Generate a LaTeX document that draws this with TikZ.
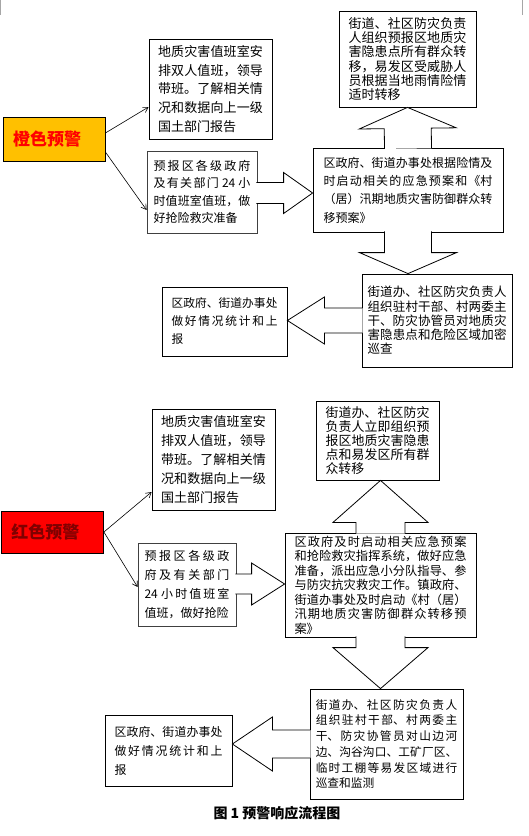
\documentclass[tikz,border=0pt]{standalone}
\usepackage{fontspec}
\setmainfont{Noto Sans CJK SC}
\XeTeXlinebreaklocale "zh"
\XeTeXlinebreakskip=0pt plus 4pt minus 0.3pt
\usetikzlibrary{arrows.meta, calc}
\definecolor{warnorange}{RGB}{255,192,0}
\definecolor{warnred}{RGB}{255,0,0}
\definecolor{darkred}{RGB}{128,0,0}
\tikzset{
  box/.style={rectangle,draw,line width=0.8pt,inner sep=0pt,align=justify},
  txt/.style 2 args={font=\fontsize{#1}{#2}\selectfont},
  alert/.style={rectangle,draw,line width=0.8pt,inner xsep=10pt,text width=82pt,align=left,
    font=\bfseries\fontsize{17}{20}\selectfont},
  line/.style={-{Straight Barb[length=5pt,width=6pt]},line width=0.6pt},
  fatarr/.style={draw,fill=white,line width=0.8pt,line join=miter}
}
% block arrow: base, tip, shaft half width, head half width, head length
\newcommand{\fatarrow}[5]{%
  \coordinate (fa-h) at ($(#2)!#5!(#1)$);
  \filldraw[fatarr] ($(#1)!#3!90:(#2)$) -- ($(fa-h)!#3!90:(#2)$) -- ($(fa-h)!#4!90:(#2)$)
    -- (#2) -- ($(fa-h)!#4!-90:(#2)$) -- ($(fa-h)!#3!-90:(#2)$) -- ($(#1)!#3!-90:(#2)$);
}

\begin{document}
\begin{tikzpicture}[x=1pt,y=-1pt]
\useasboundingbox[fill=white] (0,0) rectangle (529,836);
\draw[gray!70,line width=0.6pt] (0.5,0) -- (0.5,15);
\draw[gray!70,line width=0.6pt] (522,0) -- (522,15);

% orange warning
\node[alert, fill=warnorange, text=red, minimum height=44pt] (orange) at (54,139) {橙色预警};
\node[box, text width=105pt, minimum width=123pt, minimum height=100pt, txt={13}{18.8}] (a1) at (210.5,89)
  {地质灾害值班室安\linebreak 排双人值班，领导\linebreak 带班。了解相关情\linebreak 况和数据向上一级\linebreak 国土部门报告};
\node[box, draw=black!75, text width=97pt, minimum width=110pt, minimum height=82pt, txt={12}{17.5}] (b1) at (202,192)
  {预报区各级政府\linebreak 及有关部门 24 小\linebreak 时值班室值班，做\linebreak 好抢险救灾准备};
\node[box, text width=118pt, minimum width=137pt, minimum height=96pt, txt={13}{14.3}] (t1) at (407.5,59)
  {街道、社区防灾负责\linebreak 人组织预报区地质灾\linebreak 害隐患点所有群众转\linebreak 移，易发区受威胁人\linebreak 员根据当地雨情险情\linebreak 适时转移};
\node[box, text width=169pt, minimum width=190pt, minimum height=84pt, txt={12}{18.3}] (m1) at (408,190)
  {区政府、街道办事处根据险情及\linebreak 时启动相关的应急预案和《村\linebreak （居）汛期地质灾害防御群众转\linebreak 移预案》};
\node[box, text width=139pt, minimum width=150pt, minimum height=93pt, txt={12.5}{14.2}] (bot1r) at (437,320.5)
  {街道办、社区防灾负责人\linebreak 组织驻村干部、村两委主\linebreak 干、防灾协管员对地质灾\linebreak 害隐患点和危险区域加密\linebreak 巡查};
\node[box, text width=106pt, minimum width=125pt, minimum height=69pt, txt={11.7}{18}] (bot1l) at (224.5,321.5)
  {区政府、街道办事处\linebreak 做好情况统计和上\linebreak 报};

\draw[line] ($(orange.east)+(0,-6)$) -- ($(a1.west)+(0,18)$);
\draw[line] ($(orange.east)+(0,13)$) -- ($(b1.west)+(0,18)$);

\coordinate (u1b) at ($(m1.north)+(0,1)$);
\fatarrow{u1b}{t1.south}{23.5pt}{48.5pt}{21pt}
\coordinate (r1t) at ($(m1.west)+(0,3)$);
\coordinate (r1b) at ($(b1.east |- r1t)+(-1,0)$);
\fatarrow{r1b}{r1t}{10.5pt}{20.5pt}{29pt}
\coordinate (d1b) at ($(m1.south)+(0,-1)$);
\coordinate (d1t) at (m1.south |- bot1r.north);
\fatarrow{d1b}{d1t}{23.5pt}{48.5pt}{21pt}
\coordinate (l1b) at ($(bot1r.west)+(1,0)$);
\coordinate (l1t) at (bot1l.east |- bot1r.west);
\fatarrow{l1b}{l1t}{12.5pt}{23.5pt}{37pt}

% red warning
\node[alert, fill=warnred, text=darkred, minimum height=42pt] (red) at (52.5,532) {红色预警};
\node[box, text width=105pt, minimum width=123pt, minimum height=101pt, txt={13}{18.8}] (a2) at (213.5,459.5)
  {地质灾害值班室安\linebreak 排双人值班，领导\linebreak 带班。了解相关情\linebreak 况和数据向上一级\linebreak 国土部门报告};
\node[box, draw=black!75, text width=85pt, minimum width=98pt, minimum height=83pt, txt={12}{19}] (b2) at (187,584.5)
  {预报区各级政\linebreak 府及有关部门\linebreak 24 小时值班室\linebreak 值班，做好抢险};
\node[box, text width=104pt, minimum width=123pt, minimum height=79pt, txt={12.9}{14.2}] (t2) at (377.5,440.5)
  {街道办、社区防灾\linebreak 负责人立即组织预\linebreak 报区地质灾害隐患\linebreak 点和易发区所有群\linebreak 众转移};
\node[box, text width=172pt, minimum width=191pt, minimum height=104pt, txt={12.2}{14.5}] (m2) at (380.5,585)
  {区政府及时启动相关应急预案\linebreak 和抢险救灾指挥系统，做好应急\linebreak 准备，派出应急小分队指导、参\linebreak 与防灾抗灾救灾工作。镇政府、\linebreak 街道办事处及时启动《村（居）\linebreak 汛期地质灾害防御群众转移预\linebreak 案》};
\node[box, text width=141.5pt, minimum width=153pt, minimum height=110pt, txt={11.7}{15.7}] (bot2r) at (386.5,744)
  {街道办、社区防灾负责人\linebreak 组织驻村干部、村两委主\linebreak 干、防灾协管员对山边河\linebreak 边、沟谷沟口、工矿厂区、\linebreak 临时工棚等易发区域进行\linebreak 巡查和监测};
\node[box, text width=108pt, minimum width=127pt, minimum height=71pt, txt={11.9}{19}] (bot2l) at (168.5,750.5)
  {区政府、街道办事处\linebreak 做好情况统计和上\linebreak 报};

\draw[line] (red.east) -- ($(a2.west)+(0,32.5)$);
\draw[line] (red.east) -- ($(b2.west)+(0,2.5)$);

\coordinate (u2b) at ($(m2.north)+(0,1)$);
\coordinate (u2t) at (m2.north |- t2.south);
\fatarrow{u2b}{u2t}{24.5pt}{47.5pt}{42pt}
\coordinate (r2t) at ($(m2.west)+(0,-1)$);
\coordinate (r2b) at ($(b2.east |- r2t)+(-1,0)$);
\fatarrow{r2b}{r2t}{10pt}{21pt}{33pt}
\coordinate (d2b) at ($(m2.south)+(0,-1)$);
\coordinate (d2t) at (m2.south |- bot2r.north);
\fatarrow{d2b}{d2t}{24.5pt}{47.5pt}{41pt}
\coordinate (l2b) at ($(bot2r.west)+(1,0)$);
\coordinate (l2t) at (bot2l.east |- bot2r.west);
\fatarrow{l2b}{l2t}{14pt}{27pt}{40pt}

\node[font=\bfseries\fontsize{14}{16}\selectfont] (caption) at (277,813) {图 1 预警响应流程图};
\end{tikzpicture}
\end{document}
